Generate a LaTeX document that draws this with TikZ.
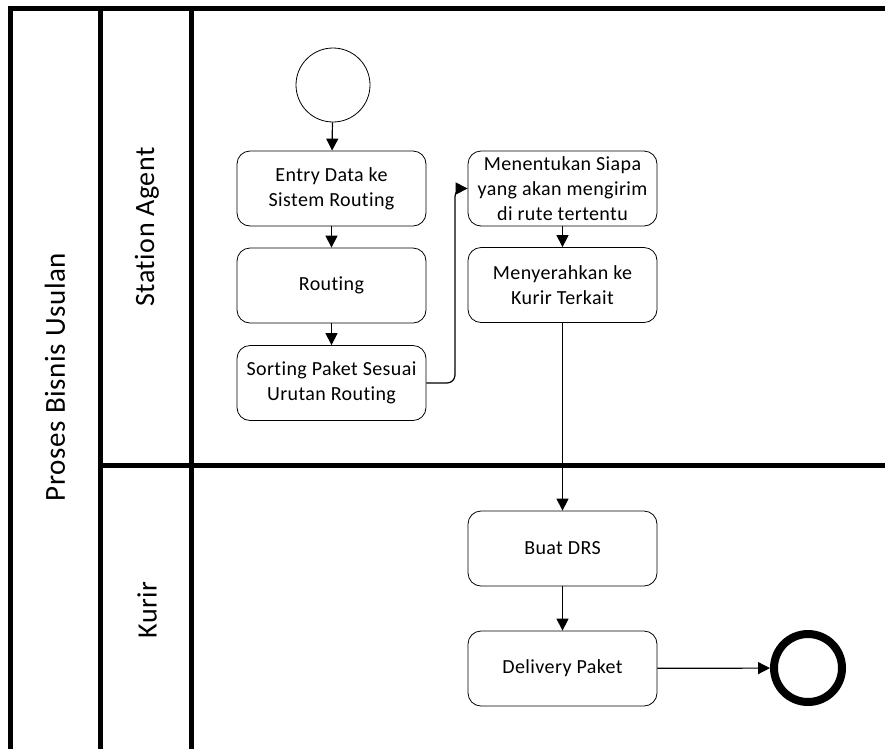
\documentclass[tikz,border=0pt]{standalone}
\usepackage{fontspec}
\setmainfont{Carlito}[Ligatures={NoCommon,NoRequired,NoContextual},LetterSpace=2]
\usetikzlibrary{arrows.meta}
\begin{document}
\begin{tikzpicture}[x=1pt,y=-1pt,
  lane/.style={line width=5pt,line cap=rect},
  task/.style={draw,line width=0.8pt,rounded corners=13pt,minimum width=189pt,minimum height=75pt,inner sep=2pt,align=center,font=\fontsize{20}{25}\selectfont},
  flow/.style={line width=1.2pt,-{Triangle[length=12pt,width=12pt]}},
  lanelabel/.style={rotate=90,font=\fontsize{28}{32}\selectfont}]
\useasboundingbox (0,0) rectangle (885,748);
% pool and lanes
\draw[lane] (10,760) -- (10,8) -- (895,8);
\draw[lane] (100,8) -- (100,760);
\draw[lane] (191,8) -- (191,760);
\draw[lane] (100,465) -- (895,465);
\node[lanelabel,font=\fontsize{29}{34}\selectfont] (pool) at (55,377) {Proses Bisnis Usulan};
\node[lanelabel] (lsa) at (147,227) {Station Agent};
\node[lanelabel] (lk) at (147,610) {Kurir};
% events
\node[draw,circle,line width=0.8pt,minimum size=74pt,inner sep=0pt] (start) at (333,85) {};
\node[draw,circle,line width=8pt,minimum size=68pt,inner sep=0pt] (end) at (808,668) {};
% tasks
\node[task] (t1) at (331.5,188.5) {Entry Data ke\\Sistem Routing};
\node[task] (t2) at (331.5,285.5) {Routing};
\node[task] (t3) at (331.5,383) {Sorting Paket Sesuai\\Urutan Routing};
\node[task] (t4) at (562.5,188.5) {Menentukan Siapa\\yang akan mengirim\\di rute tertentu};
\node[task] (t5) at (562.5,285) {Menyerahkan ke\\Kurir Terkait};
\node[task] (t6) at (562.5,548.5) {Buat DRS};
\node[task] (t7) at (562.5,668.5) {Delivery Paket};
% flows
\draw[flow] (start) -- (t1);
\draw[flow] (t1) -- (t2);
\draw[flow] (t2) -- (t3);
\draw[flow,rounded corners=8pt] (t3.east) -- (455,383) -- (455,188.5) -- (t4.west);
\draw[flow] (t4) -- (t5);
\draw[flow] (t5) -- (t6);
\draw[flow] (t6) -- (t7);
\draw[flow] (t7) -- (end);
\end{tikzpicture}
\end{document}
